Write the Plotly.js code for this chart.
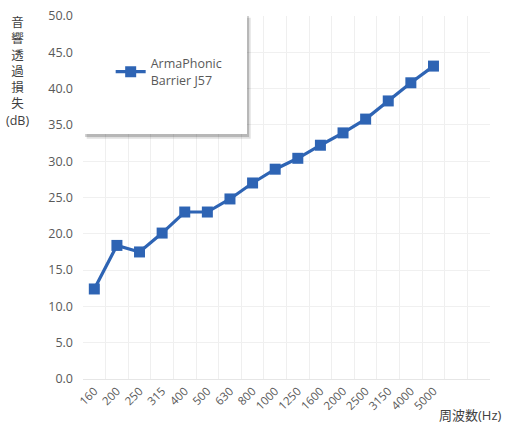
<!DOCTYPE html>
<html>
<head>
<meta charset="utf-8">
<script src="https://cdn.plot.ly/plotly-3.0.1.min.js"></script>
<style>html,body{margin:0;padding:0;background:#fff;}#chart{width:508px;height:425px;}</style>
</head>
<body>
<div id="chart"></div>
<script>
const categories = ["160","200","250","315","400","500","630","800","1000","1250","1600","2000","2500","3150","4000","5000"];
const extraSlots = [" ", "  "];
const seriesName = "ArmaPhonic<br>Barrier J57";
const values = [12.4, 18.4, 17.5, 20.1, 23.0, 23.0, 24.8, 27.0, 28.9, 30.4, 32.2, 33.9, 35.8, 38.3, 40.8, 43.1];
const yTicks = [0, 5, 10, 15, 20, 25, 30, 35, 40, 45, 50];
const yTitle = "音<br>響<br>透<br>過<br>損<br>失<br>(dB)";
const xTitle = "周波数(Hz)";

const font = "'Open Sans', 'Noto Sans CJK JP', sans-serif";
const grey = "#595959";
const blue = "#2E64B4";

const trace = {
  x: categories, y: values, type: "scatter", mode: "lines+markers",
  name: seriesName,
  line: {color: blue, width: 3.2},
  marker: {symbol: "square", size: 11, color: blue}
};

const layout = {
  width: 508, height: 425,
  margin: {l: 83, r: 18, t: 16, b: 46},
  paper_bgcolor: "#fff", plot_bgcolor: "#fff",
  font: {family: font, color: grey, size: 12},
  showlegend: true,
  legend: {x: 0.068, y: 0.846, xanchor: "left", yanchor: "middle",
           bgcolor: "rgba(0,0,0,0)", borderwidth: 0, font: {size: 12.5, color: grey}},
  xaxis: {
    type: "category", categoryorder: "array",
    categoryarray: categories.concat(extraSlots),
    range: [-0.5, categories.length + extraSlots.length - 0.5],
    tickson: "boundaries", showgrid: true, gridcolor: "#efefef", gridwidth: 1,
    ticks: "", tickangle: -45, tickfont: {size: 11.5, color: grey},
    showline: true, linecolor: "#e6e6e6", zeroline: false, fixedrange: true
  },
  yaxis: {
    range: [0, 50], tickvals: yTicks, tickformat: ".1f",
    showgrid: true, gridcolor: "#f0f0f0", zeroline: false,
    showline: false, ticks: "", tickfont: {size: 12.5, color: grey},
    ticklabelstandoff: 9, fixedrange: true
  },
  shapes: [
    {type: "rect", xref: "paper", yref: "paper", x0: 0.009, x1: 0.412, y0: 0.662, y1: 0.995,
     fillcolor: "rgba(0,0,0,0.12)", line: {width: 0}, layer: "above"},
    {type: "rect", xref: "paper", yref: "paper", x0: 0.005, x1: 0.408, y0: 0.667, y1: 1.0,
     fillcolor: "rgba(0,0,0,0.18)", line: {width: 0}, layer: "above"},
    {type: "rect", xref: "paper", yref: "paper", x0: 0, x1: 0.403, y0: 0.675, y1: 1.008,
     fillcolor: "#ffffff", line: {width: 0}, layer: "above"}
  ],
  annotations: [
    {text: yTitle, xref: "paper", yref: "paper", x: -0.16, y: 1.012, xanchor: "center", yanchor: "top",
     showarrow: false, align: "center", font: {size: 12.5, color: "#404040"}},
    {text: xTitle, xref: "paper", yref: "paper", x: 1.035, y: -0.1, xanchor: "right", yanchor: "middle",
     showarrow: false, font: {size: 13, color: "#404040"}}
  ]
};

Plotly.newPlot("chart", [trace], layout, {displayModeBar: false, staticPlot: true});
</script>
</body>
</html>
